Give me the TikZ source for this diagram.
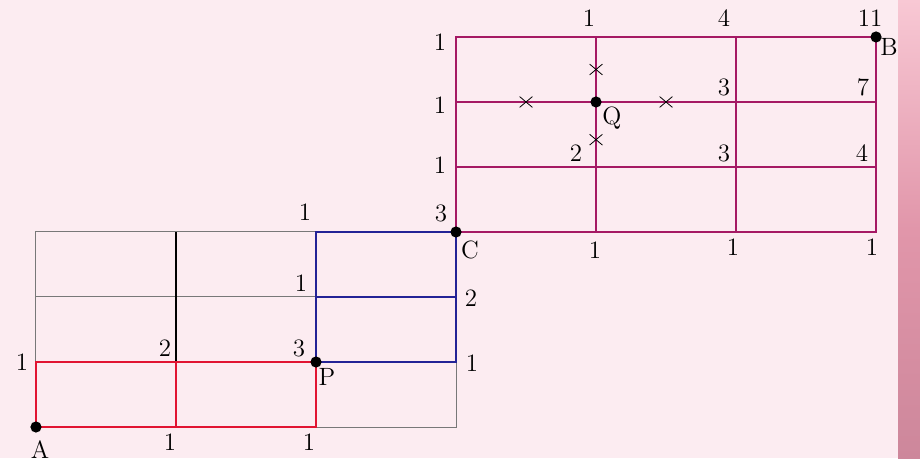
\documentclass[tikz,border=0pt]{standalone}
\usepackage{xcolor}
\usetikzlibrary{shapes.misc}

\definecolor{bgpink}{RGB}{252,236,241}
\definecolor{stripTop}{RGB}{248,200,212}
\definecolor{stripMid}{RGB}{225,150,170}
\definecolor{stripBot}{RGB}{205,135,155}
\definecolor{gridgray}{RGB}{120,120,120}
\definecolor{pathred}{RGB}{225,20,50}
\definecolor{pathblue}{RGB}{35,35,150}
\definecolor{gridmag}{RGB}{165,25,100}

\begin{document}
\begin{tikzpicture}[
    x=70pt, y=32.5pt,
    % Define styles
    graygrid/.style={draw=gridgray, line width=0.5pt},
    redpath/.style={draw=pathred, line width=1pt},
    bluepath/.style={draw=pathblue, line width=0.8pt},
    blackpath/.style={draw=black, line width=1.1pt},
    maggrid/.style={draw=gridmag, line width=0.9pt},
    dot/.style={circle, fill=black, inner sep=0pt, minimum size=5.6pt},
    cross/.style={cross out, draw=black, line width=0.4pt, inner sep=0pt, minimum width=6pt, minimum height=5pt},
    lbl/.style={font=\fontsize{12.5}{14}\selectfont, inner sep=0pt}
]

% Background
\fill[bgpink] (-0.257,-0.477) rectangle (6.314,6.569);
\shade[top color=stripTop, bottom color=stripBot, middle color=stripMid] (6.157,-0.477) rectangle (6.314,6.569);

% Lower grid
\coordinate (A) at (0,0);
\coordinate (P) at (2,1);
\coordinate (C) at (3,3);

\draw[graygrid] (0,1) -- (0,3) -- (2,3);
\draw[graygrid] (0,2) -- (2,2);
\draw[graygrid] (2,0) -- (3,0) -- (3,1);
\draw[blackpath] (1,1) -- (1,3);
\draw[redpath] (A) rectangle (P);
\draw[redpath] (1,0) -- (1,1);
\draw[bluepath] (P) rectangle (C);
\draw[bluepath] (2,2) -- (3,2);
\draw[bluepath, line width=1.2pt] (P) -- (2,3);

% Upper grid
\coordinate (Q) at (4,5);
\coordinate (B) at (6,6);

\draw[maggrid] (C) rectangle (B);
\draw[maggrid] (3,4) -- (6,4);
\draw[maggrid] (3,5) -- (6,5);
\draw[maggrid] (5,3) -- (5,6);
\draw[maggrid, line width=1.4pt] (4,3) -- (4,6);

% Crosses around Q
\node[cross] (qup) at (4,5.5) {};
\node[cross] (qleft) at (3.5,5) {};
\node[cross] (qright) at (4.5,5) {};
\node[cross] (qdown) at (4,4.42) {};

% Points
\node[dot] (dA) at (A) {};
\node[dot] (dP) at (P) {};
\node[dot] (dC) at (C) {};
\node[dot] (dQ) at (Q) {};
\node[dot] (dB) at (B) {};

% Lower labels
\node[lbl] (la) at (0.029,-0.354) {A};
\node[lbl] (lp) at (2.079,0.77) {P};
\node[lbl] (lc) at (3.1,2.72) {C};
\node[lbl] (n01) at (-0.1,1.0) {1};
\node[lbl] (n11) at (0.921,1.215) {2};
\node[lbl] (n21) at (1.879,1.215) {3};
\node[lbl] (n22) at (1.893,2.215) {1};
\node[lbl] (n23) at (1.921,3.31) {1};
\node[lbl] (n33) at (2.893,3.29) {3};
\node[lbl] (n32) at (3.107,1.985) {2};
\node[lbl] (n31) at (3.114,0.985) {1};
\node[lbl] (n10) at (0.957,-0.23) {1};
\node[lbl] (n20) at (1.95,-0.23) {1};

% Upper labels
\node[lbl] (lb) at (6.093,5.85) {B};
\node[lbl] (lq) at (4.114,4.75) {Q};
\node[lbl] (m36) at (2.886,5.92) {1};
\node[lbl] (m35) at (2.886,4.95) {1};
\node[lbl] (m34) at (2.886,4.03) {1};
\node[lbl] (m46) at (3.95,6.29) {1};
\node[lbl] (m56) at (4.914,6.29) {4};
\node[lbl] (m66) at (5.957,6.29) {11};
\node[lbl] (m55) at (4.914,5.23) {3};
\node[lbl] (m65) at (5.907,5.23) {7};
\node[lbl] (m44) at (3.857,4.215) {2};
\node[lbl] (m54) at (4.914,4.215) {3};
\node[lbl] (m64) at (5.9,4.215) {4};
\node[lbl] (m43) at (3.993,2.72) {1};
\node[lbl] (m53) at (4.979,2.77) {1};
\node[lbl] (m63) at (5.971,2.77) {1};

\end{tikzpicture}
\end{document}
